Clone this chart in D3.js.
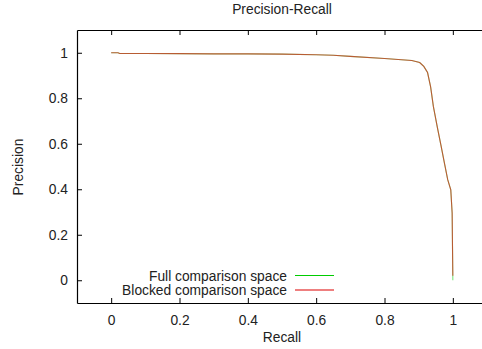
<!DOCTYPE html>
<html>
<head>
<meta charset="utf-8">
<script src="https://cdn.jsdelivr.net/npm/d3@7"></script>
<style>
  body { margin: 0; background: #fff; }
  svg { display: block; font-family: "Liberation Sans", Arial, sans-serif; }
</style>
</head>
<body>
<div class="chart"></div>
<script>
// data
var fullRecall    = [0, 0.02, 0.025, 0.1, 0.2, 0.3, 0.4, 0.5, 0.6, 0.65, 0.7, 0.8, 0.88, 0.903, 0.915, 0.926, 0.935, 0.943, 0.955, 0.965, 0.976, 0.985, 0.994, 0.998, 0.999, 1.0];
var fullPrecision = [1.0, 1.0, 0.997, 0.997, 0.996, 0.995, 0.995, 0.994, 0.991, 0.989, 0.984, 0.975, 0.966, 0.957, 0.94, 0.913, 0.85, 0.764, 0.67, 0.595, 0.51, 0.442, 0.397, 0.296, 0.15, 0.0];
var blockedRecall    = [0, 0.02, 0.025, 0.1, 0.2, 0.3, 0.4, 0.5, 0.6, 0.65, 0.7, 0.8, 0.88, 0.903, 0.915, 0.926, 0.935, 0.943, 0.955, 0.965, 0.976, 0.985, 0.994, 0.998, 0.999, 1.0];
var blockedPrecision = [1.0, 1.0, 0.997, 0.997, 0.996, 0.995, 0.995, 0.994, 0.991, 0.989, 0.984, 0.975, 0.966, 0.957, 0.94, 0.913, 0.85, 0.764, 0.67, 0.595, 0.51, 0.442, 0.397, 0.296, 0.15, 0.02];
var seriesNames = ["Full comparison space", "Blocked comparison space"];
var seriesColors = ["#00cc00", "#dd0000"];
var tickValues = [0, 0.2, 0.4, 0.6, 0.8, 1];

var W = 482, H = 349;
var margin = { top: 30, left: 77 };
var width = 410, height = 273;
var fs = "13.8px";

var svg = d3.select(".chart").append("svg")
    .attr("width", W).attr("height", H);

var g = svg.append("g")
    .attr("transform", "translate(" + margin.left + "," + margin.top + ")");

var x = d3.scaleLinear().domain([-0.1, 1.1]).range([0, width]);
var y = d3.scaleLinear().domain([-0.1, 1.1]).range([height, 0]);

var fmt = function(d) { return d3.format("~g")(d); };

// axes, ticks pointing inward
var bottom = g.append("g").attr("transform", "translate(0," + height + ")")
    .call(d3.axisBottom(x).tickValues(tickValues).tickSizeInner(-5).tickSizeOuter(0).tickPadding(12).tickFormat(fmt));
var top_ = g.append("g")
    .call(d3.axisTop(x).tickValues(tickValues).tickSizeInner(-5).tickSizeOuter(0).tickFormat(""));
var left = g.append("g")
    .call(d3.axisLeft(y).tickValues(tickValues).tickSizeInner(-5).tickSizeOuter(0).tickPadding(9).tickFormat(fmt));

[bottom, top_, left].forEach(function(a) {
  a.select(".domain").attr("stroke", "#000").attr("stroke-width", 1.2);
  a.selectAll(".tick line").attr("stroke", "#000");
  a.selectAll("text").attr("fill", "#222").style("font-size", fs)
    .style("font-family", "'Liberation Sans', Arial, sans-serif");
});

// lines: red drawn over green, blended as in the original
var line = d3.line().x(function(d) { return x(d[0]); }).y(function(d) { return y(d[1]); });
var fullData = d3.zip(fullRecall, fullPrecision);
var blockedData = d3.zip(blockedRecall, blockedPrecision);

g.append("path").datum(fullData).attr("d", line)
    .attr("fill", "none").attr("stroke", seriesColors[0]).attr("stroke-width", 1.1).attr("opacity", 0.5);
g.append("path").datum(blockedData).attr("d", line)
    .attr("fill", "none").attr("stroke", seriesColors[1]).attr("stroke-width", 1.1).attr("opacity", 0.6);

// legend
var legend = svg.append("g");
seriesNames.forEach(function(name, i) {
  var ly = 275.5 + i * 14.5;
  legend.append("text").attr("x", 287).attr("y", ly + 5)
    .attr("text-anchor", "end").attr("fill", "#222").style("font-size", fs).text(name);
  legend.append("line").attr("x1", 295).attr("x2", 334).attr("y1", ly).attr("y2", ly)
    .attr("stroke", seriesColors[i]).attr("stroke-width", 1.2);
});

// titles
svg.append("text").attr("x", 282).attr("y", 14).attr("text-anchor", "middle")
    .attr("fill", "#222").style("font-size", fs).text("Precision-Recall");
svg.append("text").attr("x", 282).attr("y", 342).attr("text-anchor", "middle")
    .attr("fill", "#222").style("font-size", fs).text("Recall");
svg.append("text").attr("transform", "translate(23,167) rotate(-90)").attr("text-anchor", "middle")
    .attr("fill", "#222").style("font-size", fs).text("Precision");
</script>
</body>
</html>
